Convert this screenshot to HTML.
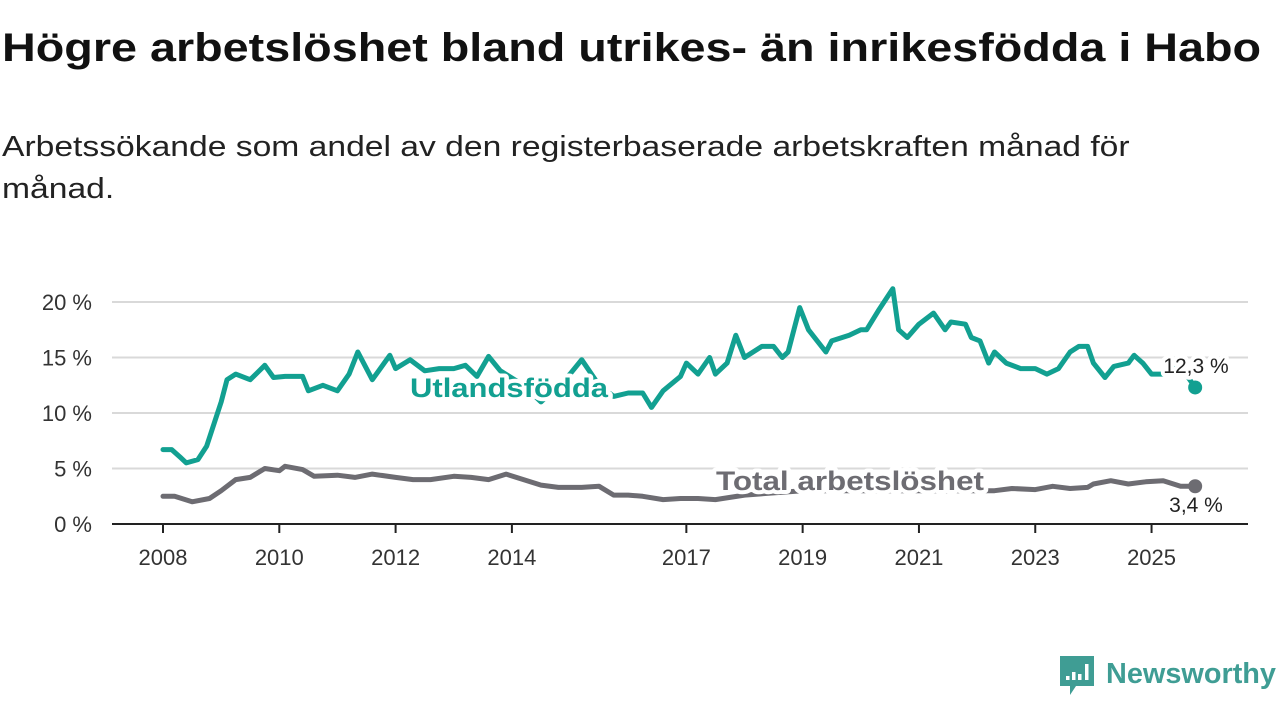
<!DOCTYPE html>
<html><head><meta charset="utf-8">
<style>
body{margin:0;width:1280px;height:720px;background:#fff;font-family:"Liberation Sans","DejaVu Sans",sans-serif;overflow:hidden;position:relative}
h1{position:absolute;left:2px;top:26px;margin:0;font-size:40px;font-weight:bold;color:#111;transform-origin:0 0;transform:scaleX(1.168);white-space:nowrap}
.sub{position:absolute;left:2px;top:126px;margin:0;font-size:29px;line-height:42px;color:#222;width:1010px;transform-origin:0 0;transform:scaleX(1.16)}
svg{position:absolute;left:0;top:0}
</style></head><body>
<h1>Högre arbetslöshet bland utrikes- än inrikesfödda i Habo</h1>
<p class="sub">Arbetssökande som andel av den registerbaserade arbetskraften månad för månad.</p>
<svg id="chart" width="1280" height="720"></svg>
<script>
const yTicks=[0,5,10,15,20];
const yTickLabels=["0 %","5 %","10 %","15 %","20 %"];
const xTicks=[2008,2010,2012,2014,2017,2019,2021,2023,2025];
const xTickLabels=["2008","2010","2012","2014","2017","2019","2021","2023","2025"];
const utlYears=[2008.0,2008.15,2008.3,2008.4,2008.6,2008.75,2009.0,2009.1,2009.25,2009.5,2009.75,2009.9,2010.1,2010.4,2010.5,2010.75,2011.0,2011.2,2011.35,2011.6,2011.9,2012.0,2012.25,2012.5,2012.75,2013.0,2013.2,2013.4,2013.6,2013.8,2014.2,2014.5,2015.0,2015.2,2015.5,2015.75,2016.0,2016.25,2016.4,2016.6,2016.9,2017.0,2017.2,2017.4,2017.5,2017.7,2017.85,2018.0,2018.3,2018.5,2018.65,2018.75,2018.95,2019.1,2019.4,2019.5,2019.8,2020.0,2020.1,2020.3,2020.55,2020.65,2020.8,2021.0,2021.25,2021.45,2021.55,2021.8,2021.9,2022.05,2022.2,2022.3,2022.5,2022.75,2023.0,2023.2,2023.4,2023.6,2023.75,2023.9,2024.0,2024.2,2024.35,2024.6,2024.7,2024.85,2025.0,2025.2,2025.4,2025.55,2025.75];
const utlValues=[6.7,6.7,6.0,5.5,5.8,7.0,11.0,13.0,13.5,13.0,14.3,13.2,13.3,13.3,12.0,12.5,12.0,13.5,15.5,13.0,15.2,14.0,14.8,13.8,14.0,14.0,14.3,13.3,15.1,13.8,12.5,11.0,13.5,14.8,12.5,11.5,11.8,11.8,10.5,12.0,13.3,14.5,13.5,15.0,13.5,14.5,17.0,15.0,16.0,16.0,15.0,15.5,19.5,17.5,15.5,16.5,17.0,17.5,17.5,19.2,21.2,17.5,16.8,18.0,19.0,17.5,18.2,18.0,16.8,16.5,14.5,15.5,14.5,14.0,14.0,13.5,14.0,15.5,16.0,16.0,14.5,13.2,14.2,14.5,15.2,14.5,13.5,13.5,14.2,13.8,12.3];
const totYears=[2008.0,2008.2,2008.5,2008.8,2009.0,2009.25,2009.5,2009.75,2010.0,2010.1,2010.4,2010.6,2011.0,2011.3,2011.6,2012.0,2012.3,2012.6,2013.0,2013.3,2013.6,2013.9,2014.2,2014.5,2014.8,2015.2,2015.5,2015.75,2016.0,2016.25,2016.6,2016.9,2017.2,2017.5,2017.75,2018.0,2019.0,2020.0,2021.0,2022.0,2022.3,2022.6,2023.0,2023.3,2023.6,2023.9,2024.0,2024.3,2024.6,2024.9,2025.2,2025.5,2025.75];
const totValues=[2.5,2.5,2.0,2.3,3.0,4.0,4.2,5.0,4.8,5.2,4.9,4.3,4.4,4.2,4.5,4.2,4.0,4.0,4.3,4.2,4.0,4.5,4.0,3.5,3.3,3.3,3.4,2.6,2.6,2.5,2.2,2.3,2.3,2.2,2.4,2.6,3.0,3.0,3.0,3.0,3.0,3.2,3.1,3.4,3.2,3.3,3.6,3.9,3.6,3.8,3.9,3.4,3.4];
const NS="http://www.w3.org/2000/svg";
const svg=document.getElementById('chart');
const x=v=>163+(v-2008)*58.15;
const y=v=>524-v*11.1;
function mk(t,a,p){const e=document.createElementNS(NS,t);for(const k in a)e.setAttribute(k,a[k]);(p||svg).appendChild(e);return e;}
yTicks.forEach((t,i)=>{
 const g=mk('line',{x1:112,x2:1248,y1:y(t),y2:y(t),stroke:t===0?'#222':'#d9d9d9','stroke-width':2});
 
 
 const l=mk('text',{x:92,y:y(t)+8,'text-anchor':'end','font-size':22,fill:'#333'});
 l.textContent=yTickLabels[i];
 
 
});
xTicks.forEach((t,i)=>{
 const m=mk('line',{x1:x(t),x2:x(t),y1:524,y2:533,stroke:'#222','stroke-width':2});
 
 
 const l=mk('text',{x:x(t),y:565,'text-anchor':'middle','font-size':22,fill:'#333'});
 l.textContent=xTickLabels[i];
 
 
});
function line(xs,vs,c,name){
 const d=xs.map((v,i)=>(i?'L':'M')+x(v).toFixed(1)+','+y(vs[i]).toFixed(1)).join('');
 const p=mk('path',{d:d,fill:'none',stroke:c,'stroke-width':5,'stroke-linejoin':'round','stroke-linecap':'round'});
 
 
 const n=xs.length-1;
 const dot=mk('circle',{cx:x(xs[n]),cy:y(vs[n]),r:7,fill:c});
 
 
}
line(totYears,totValues,'#6d6c72','total');
line(utlYears,utlValues,'#12a091','utlandsfodda');
function lab(tx,xx,yy,c,fs,w,anchor,name,len){
 const a={x:xx,y:yy,fill:c,'font-size':fs,'font-weight':w,'text-anchor':anchor||'start',stroke:'#fff','stroke-width':8,'paint-order':'stroke','stroke-linejoin':'round'};
 if(len){a.textLength=len;a.lengthAdjust='spacingAndGlyphs';}
 const t=mk('text',a);
 t.textContent=tx;
 
 
}
lab('Utlandsfödda',410,397,'#12a091',27,'bold','start','series-label-utlandsfodda',198);
lab('Total arbetslöshet',716,490,'#6d6c72',27,'bold','start','series-label-total',268);
lab('12,3 %',1196,373,'#222',21,'normal','middle','end-value-utlandsfodda');
lab('3,4 %',1196,512,'#222',21,'normal','middle','end-value-total');
const lg=mk('g',{});


mk('path',{d:'M1060 656h34v30h-18l-6 9v-9h-10z',fill:'#3f9d94'},lg);
[[1066,676,4],[1072,672,8],[1078,674,6],[1085,664,16]].forEach(b=>mk('rect',{x:b[0],y:b[1],width:3.5,height:b[2],fill:'#fff'},lg));
const lt=mk('text',{x:1106,y:683,'font-size':29,fill:'#3f9d94','font-weight':'bold',textLength:170,lengthAdjust:'spacingAndGlyphs'},lg);
lt.textContent='Newsworthy';
</script>
</body></html>
